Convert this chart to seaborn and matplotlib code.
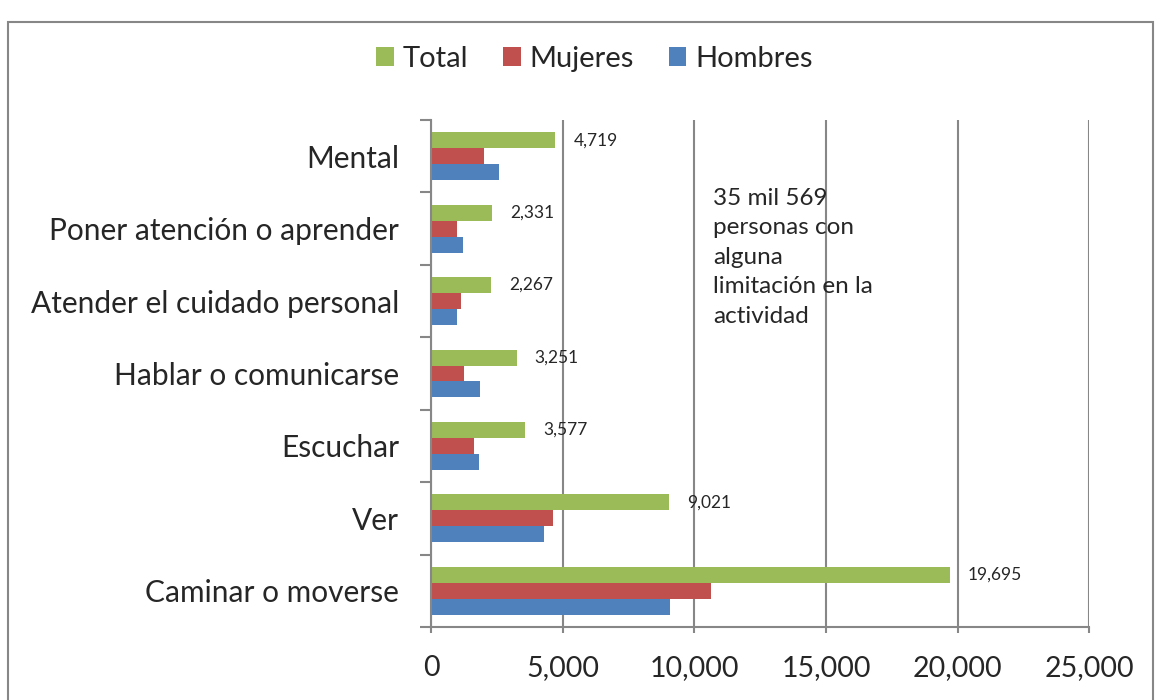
import numpy as np
import pandas as pd
import seaborn as sns
import matplotlib.pyplot as plt
from matplotlib.patches import Rectangle

# datos
categorias = ["Mental", "Poner atención o aprender", "Atender el cuidado personal",
              "Hablar o comunicarse", "Escuchar", "Ver", "Caminar o moverse"]
total = [4719, 2331, 2267, 3251, 3577, 9021, 19695]
mujeres = [2011, 1000, 1150, 1272, 1652, 4648, 10638]
hombres = [2584, 1212, 990, 1854, 1805, 4293, 9083]
series = ["Total", "Mujeres", "Hombres"]
colores = ["#9BBB59", "#C0504D", "#4F81BD"]
nota = "35 mil 569\npersonas con\nalguna\nlimitación en la\nactividad"

df = pd.DataFrame({"Actividad": categorias, "Total": total,
                   "Mujeres": mujeres, "Hombres": hombres})
df = df.melt(id_vars="Actividad", var_name="Serie", value_name="Personas")

sns.set_style("white")
plt.rcParams['font.family'] = ['Lato', 'DejaVu Sans']
gris = "#878787"

fig = plt.figure(figsize=(11.61, 7.0), dpi=100)
ax = fig.add_axes([0.3712, 0.1043, 0.5672, 0.7243])
sns.barplot(data=df, y="Actividad", x="Personas", hue="Serie", hue_order=series,
            order=categorias, palette=colores, orient="h", width=0.66,
            saturation=1, linewidth=0, ax=ax)

handles, labels = ax.get_legend_handles_labels()
ax.legend_.remove()
fig.legend(handles, labels, loc="center", bbox_to_anchor=(0.512, 0.916), ncol=3,
           frameon=False, fontsize=21, handlelength=0.6, handleheight=0.6,
           columnspacing=1.2, handletextpad=0.3)

ax.set_xlim(0, 25000)
ax.set_ylim(6.5, -0.5)
ax.set_xticks(range(0, 25001, 5000))
ax.xaxis.set_major_formatter(lambda x, p: f"{int(x):,}")
ax.set_yticks(np.arange(-0.5, 7, 1), minor=True)
ax.tick_params(which="both", bottom=True, left=True)
ax.tick_params(axis="x", length=4.5, width=1.5, color=gris, labelsize=20.5, pad=16)
ax.tick_params(axis="y", which="major", length=0, labelsize=21.5, pad=23)
ax.tick_params(axis="y", which="minor", length=8, width=1.5, color=gris)
ax.set_xlabel("")
ax.set_ylabel("")
ax.grid(axis="x", color=gris, lw=1.5)
for s in ["top", "right"]:
    ax.spines[s].set_visible(False)
for s in ["left", "bottom"]:
    ax.spines[s].set_color(gris)
    ax.spines[s].set_linewidth(1.5)

for i, v in enumerate(total):
    ax.annotate(f"{v:,}", xy=(v, i - 0.22), xytext=(13, 0), textcoords="offset points",
                va="center", ha="left", fontsize=12.5)

fig.text(0.614, 0.732, nota, va="top", ha="left", fontsize=17.5, linespacing=1.5)

fig.patches.append(Rectangle((0.0069, -0.05), 0.9862, 1.019, transform=fig.transFigure,
                             fill=False, edgecolor=gris, lw=1.5))

fig.savefig("out.png", dpi=100)
